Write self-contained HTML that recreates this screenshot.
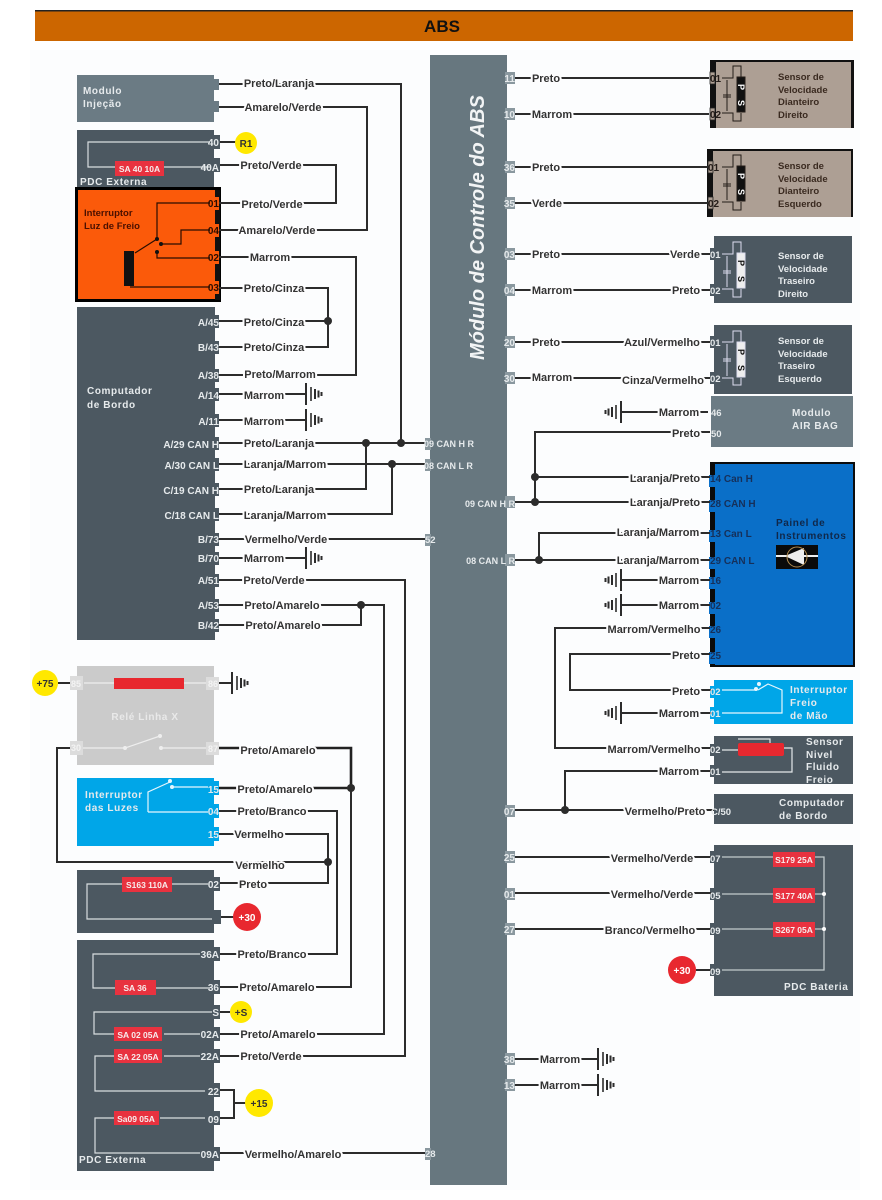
<!DOCTYPE html>
<html><head><meta charset="utf-8"><style>
html,body{margin:0;padding:0;background:#fff}
svg{display:block;filter:blur(0.35px)}
text{font-family:"Liberation Sans",sans-serif;font-weight:bold}
.l{font-size:11px;fill:#333;stroke:#fdfdfe;stroke-width:4px;paint-order:stroke;text-anchor:middle;stroke-linejoin:round}
.w{fill:none;stroke:#2c2c2c;stroke-width:2}
.i{fill:none;stroke:#d8dde0;stroke-width:1.2}
.p{font-size:10px;fill:#e6eaec;text-anchor:end}
.q{font-size:9.5px;fill:#e6eaec;text-anchor:start}
.t{font-size:10px;fill:#e6eaec;letter-spacing:.6px}
.s{font-size:9.5px;fill:#e6eaec}
.d{font-size:9.5px;fill:#3a2a20}
.f{font-size:8.5px;fill:#f7eded;text-anchor:middle}
.k{font-size:10px;fill:#16305a}
</style></head><body>
<svg width="882" height="1200" viewBox="0 0 882 1200" xmlns="http://www.w3.org/2000/svg">
<defs><g id="g"><path d="M0 -11V11" stroke="#2c2c2c" stroke-width="2"/><path d="M5 -7V7" stroke="#2c2c2c" stroke-width="1.6"/><path d="M9 -5V5M12.5 -3.500V3.500M15.500 -2V2" stroke="#2c2c2c" stroke-width="2"/></g></defs>
<rect width="882" height="1200" fill="#fff"/>
<rect x="30" y="50" width="830" height="1140" fill="#fcfdfe"/>
<rect x="35" y="11" width="818" height="30" fill="#cc6600"/><rect x="35" y="10" width="818" height="1.5" fill="#222"/>
<text x="442" y="32" font-size="17" text-anchor="middle" fill="#111">ABS</text>

<rect x="430" y="55" width="77" height="1130" fill="#67777f"/>
<text transform="translate(484,360) rotate(-90)" font-size="20" font-style="italic" fill="#f2f4f5">Módulo de Controle do ABS</text>

<!-- left blocks -->
<rect x="77" y="75" width="137" height="47" fill="#6b7b84"/>
<rect x="214" y="79" width="5" height="11" fill="#6b7b84"/><rect x="214" y="101" width="5" height="11" fill="#6b7b84"/>
<text class="t" x="83" y="94">Modulo</text><text class="t" x="83" y="107">Injeção</text>
<rect x="77" y="130" width="137" height="58" fill="#4c5861"/>
<rect x="77" y="307" width="138" height="333" fill="#4c5861"/>
<text class="t" x="87" y="394">Computador</text><text class="t" x="87" y="408">de Bordo</text>
<rect x="77" y="666" width="137" height="99" fill="#cbcbcb"/>
<rect x="77" y="778" width="137" height="68" fill="#00a6e8"/>
<rect x="77" y="870" width="137" height="63" fill="#4c5861"/>
<rect x="77" y="940" width="137" height="231" fill="#4c5861"/>

<!-- left tabs -->
<g fill="#4c5861">
<rect x="214" y="135" width="6" height="14"/><rect x="214" y="158" width="6" height="14"/>
<rect x="214" y="315" width="5" height="13"/><rect x="214" y="341" width="5" height="13"/><rect x="214" y="369" width="5" height="13"/><rect x="214" y="388" width="5" height="13"/><rect x="214" y="414" width="5" height="13"/><rect x="214" y="437" width="5" height="13"/><rect x="214" y="458" width="5" height="13"/><rect x="214" y="483" width="5" height="13"/><rect x="214" y="508" width="5" height="13"/><rect x="214" y="533" width="5" height="13"/><rect x="214" y="552" width="5" height="13"/><rect x="214" y="574" width="5" height="13"/><rect x="214" y="599" width="5" height="13"/><rect x="214" y="619" width="5" height="13"/>
<rect x="214" y="877" width="6" height="14"/>
<rect x="214" y="947" width="6" height="14"/><rect x="214" y="980" width="6" height="14"/><rect x="214" y="1005" width="6" height="14"/><rect x="214" y="1027" width="6" height="14"/><rect x="214" y="1049" width="6" height="14"/><rect x="214" y="1083" width="6" height="14"/><rect x="214" y="1111" width="6" height="14"/><rect x="214" y="1147" width="6" height="14"/>
</g>
<g fill="#00a6e8"><rect x="214" y="781" width="5" height="14"/><rect x="214" y="804" width="5" height="14"/><rect x="214" y="827" width="5" height="14"/></g>

<!-- PDC top interior -->
<path class="i" d="M210 142H88V167H210"/>
<rect x="115" y="161" width="49" height="15" fill="#e8323f"/><text class="f" x="139.500" y="172">SA 40 10A</text>
<text class="t" x="80" y="185">PDC Externa</text>
<!-- orange -->
<rect x="76.500" y="188.500" width="143" height="112" fill="#fb5a0a" stroke="#000" stroke-width="3"/>
<path d="M215 190h5v110h-5z" fill="#111"/>
<g fill="#fb5a0a"><rect x="214" y="197" width="5" height="13"/><rect x="214" y="224" width="5" height="13"/><rect x="214" y="251" width="5" height="13"/><rect x="214" y="281" width="5" height="13"/></g>
<rect x="124" y="251" width="10" height="35" fill="#111"/>
<text x="84" y="216" font-size="9.500" fill="#4a1000">Interruptor</text><text x="84" y="229" font-size="9.500" fill="#4a1000">Luz de Freio</text>
<path d="M210 203H157V238M135 253L157 239M160 244H181V230H210M157 252V258H210M130 287H210" fill="none" stroke="#2a0d00" stroke-width="1.2"/>
<circle cx="157" cy="239" r="2" fill="#111"/><circle cx="161" cy="244" r="2" fill="#111"/><circle cx="157" cy="252" r="2" fill="#111"/>

<!-- relay -->
<path d="M84 683H210" fill="none" stroke="#eee" stroke-width="1.2"/>
<rect x="114" y="678" width="70" height="11" fill="#e8282f"/>
<text x="145" y="720" font-size="10" fill="#e9e9e9" text-anchor="middle" style="letter-spacing:.6px">Relé Linha X</text>
<path d="M80 748H125L160 736M161 748H210" fill="none" stroke="#eee" stroke-width="1.2"/>
<circle cx="125" cy="748" r="2" fill="#eee"/><circle cx="161" cy="748" r="2" fill="#eee"/><circle cx="160" cy="736" r="2" fill="#eee"/>
<rect x="70" y="676" width="13" height="14" fill="#dcdcdc"/><rect x="206" y="677" width="13" height="13" fill="#dcdcdc"/>
<rect x="70" y="741" width="13" height="14" fill="#dcdcdc"/><rect x="206" y="742" width="13" height="13" fill="#dcdcdc"/>
<text x="76" y="687" font-size="9" text-anchor="middle" fill="#f3f3f3">85</text><text x="213" y="687" font-size="9" text-anchor="middle" fill="#f3f3f3">86</text>
<text x="76" y="751" font-size="9" text-anchor="middle" fill="#f3f3f3">30</text><text x="213" y="752" font-size="9" text-anchor="middle" fill="#f3f3f3">87</text>

<!-- luzes -->
<text class="t" x="85" y="798">Interruptor</text><text class="t" x="85" y="811">das Luzes</text>
<path d="M148 812V792L170 782M172 787H208M148 812H208" fill="none" stroke="#e6f6fd" stroke-width="1.2"/>
<circle cx="170" cy="781" r="2" fill="#e6f6fd"/><circle cx="172" cy="787" r="2" fill="#e6f6fd"/>
<!-- s163 -->
<path class="i" d="M208 884H87V919H212"/>
<rect x="122" y="877" width="50" height="15" fill="#e8323f"/><text class="f" x="147" y="888">S163 110A</text>
<rect x="214" y="910" width="7" height="14" fill="#4c5861"/>
<!-- bottom pdc -->
<path class="i" d="M200 954H93V988H116M156 988H210M212 1012H94V1034H116M164 1034H200M200 1056H164M116 1056H95V1091H205M205 1118H160M114 1118H95V1153H200"/>
<rect x="115" y="980" width="41" height="15" fill="#e8323f"/><text class="f" x="135" y="991">SA 36</text>
<rect x="114" y="1027" width="48" height="14" fill="#e8323f"/><text class="f" x="138" y="1038">SA 02 05A</text>
<rect x="114" y="1049" width="48" height="14" fill="#e8323f"/><text class="f" x="138" y="1060">SA 22 05A</text>
<rect x="114" y="1111" width="45" height="14" fill="#e8323f"/><text class="f" x="136" y="1122">Sa09 05A</text>
<text class="t" x="79" y="1163">PDC Externa</text>

<!-- left wires -->
<path class="w" d="M219 84H401V443M219 107H367V230H219M220 165H336V203H219M219 257H356V375H219M219 288H328V347H219M219 321H328M219 394H306M219 420H306M219 443H430M219 464H430M219 489H366V443M219 514H392V464M219 539H430M219 558H306M219 580H405V1056H220M219 605H384V1034H220M219 625H361V605M351 788V987H220M219 811H337V954H220M219 834H328V883H220M70 748H57V862H328M220 142H236M219 683H231M58 683H70M221 917H234M220 1012H230M220 1153H430"/>
<path d="M219 748H351V790M219 788H351" fill="none" stroke="#222" stroke-width="2.6"/>
<path class="w" d="M220 1090H234V1118H220M234 1103H246"/>
<g fill="#2c2c2c"><circle cx="328" cy="321" r="4"/><circle cx="366" cy="443" r="4"/><circle cx="401" cy="443" r="4"/><circle cx="392" cy="464" r="4"/><circle cx="361" cy="605" r="4"/><circle cx="351" cy="788" r="4"/><circle cx="328" cy="862" r="4"/></g>
<use href="#g" x="306" y="394"/><use href="#g" x="306" y="420"/><use href="#g" x="306" y="558"/><use href="#g" x="232" y="683"/>

<!-- left labels -->
<g>
<text class="l" x="279" y="87">Preto/Laranja</text><text class="l" x="283" y="111">Amarelo/Verde</text>
<text class="l" x="271" y="169">Preto/Verde</text><text class="l" x="272" y="208">Preto/Verde</text><text class="l" x="277" y="234">Amarelo/Verde</text>
<text class="l" x="270" y="261">Marrom</text><text class="l" x="274" y="292">Preto/Cinza</text><text class="l" x="274" y="326">Preto/Cinza</text><text class="l" x="274" y="351">Preto/Cinza</text>
<text class="l" x="280" y="378">Preto/Marrom</text><text class="l" x="264" y="399">Marrom</text><text class="l" x="264" y="425">Marrom</text>
<text class="l" x="279" y="447">Preto/Laranja</text><text class="l" x="285" y="468">Laranja/Marrom</text><text class="l" x="279" y="493">Preto/Laranja</text><text class="l" x="285" y="519">Laranja/Marrom</text>
<text class="l" x="286" y="543">Vermelho/Verde</text><text class="l" x="264" y="562">Marrom</text><text class="l" x="274" y="584">Preto/Verde</text>
<text class="l" x="282" y="609">Preto/Amarelo</text><text class="l" x="283" y="629">Preto/Amarelo</text>
<text class="l" x="278" y="754">Preto/Amarelo</text><text class="l" x="275" y="793">Preto/Amarelo</text><text class="l" x="272" y="815">Preto/Branco</text><text class="l" x="259" y="838">Vermelho</text><text class="l" x="260" y="869">Vermelho</text><text class="l" x="253" y="888">Preto</text>
<text class="l" x="272" y="958">Preto/Branco</text><text class="l" x="277" y="991">Preto/Amarelo</text><text class="l" x="278" y="1038">Preto/Amarelo</text><text class="l" x="271" y="1060">Preto/Verde</text><text class="l" x="293" y="1158">Vermelho/Amarelo</text>
</g>

<!-- left pins -->
<g>
<text class="p" x="219" y="146">40</text><text class="p" x="219" y="171">40A</text>
<text x="219" y="207" font-size="10" text-anchor="end" fill="#2a0d00">01</text><text x="219" y="234" font-size="10" text-anchor="end" fill="#2a0d00">04</text><text x="219" y="261" font-size="10" text-anchor="end" fill="#2a0d00">02</text><text x="219" y="291" font-size="10" text-anchor="end" fill="#2a0d00">03</text>
<text class="p" x="219" y="326">A/45</text><text class="p" x="219" y="351">B/43</text><text class="p" x="219" y="379">A/38</text><text class="p" x="219" y="399">A/14</text><text class="p" x="219" y="425">A/11</text>
<text class="p" x="219" y="448">A/29 CAN H</text><text class="p" x="219" y="469">A/30 CAN L</text><text class="p" x="219" y="494">C/19 CAN H</text><text class="p" x="219" y="519">C/18 CAN L</text>
<text class="p" x="219" y="543">B/73</text><text class="p" x="219" y="562">B/70</text><text class="p" x="219" y="584">A/51</text><text class="p" x="219" y="609">A/53</text><text class="p" x="219" y="629">B/42</text>
<text class="p" x="219" y="793">15</text><text class="p" x="219" y="815">04</text><text class="p" x="219" y="838">15</text><text class="p" x="219" y="888">02</text>
<text class="p" x="219" y="958">36A</text><text class="p" x="219" y="991">36</text><text class="p" x="219" y="1016">S</text><text class="p" x="219" y="1038">02A</text><text class="p" x="219" y="1060">22A</text><text class="p" x="219" y="1095">22</text><text class="p" x="219" y="1123">09</text><text class="p" x="219" y="1158">09A</text>
</g>

<!-- circles -->
<g text-anchor="middle" font-size="10">
<circle cx="246" cy="143" r="11" fill="#ffe800"/><text x="246" y="147" fill="#333">R1</text>
<circle cx="45" cy="683" r="13" fill="#ffe800"/><text x="45" y="687" fill="#333">+75</text>
<circle cx="247" cy="917" r="14" fill="#e8282f"/><text x="247" y="921" fill="#fff">+30</text>
<circle cx="241" cy="1012" r="11" fill="#ffe800"/><text x="241" y="1016" fill="#333">+S</text>
<circle cx="259" cy="1103" r="14" fill="#ffe800"/><text x="259" y="1107" fill="#333">+15</text>
<circle cx="682" cy="970" r="14" fill="#e8282f"/><text x="682" y="974" fill="#fff">+30</text>
</g>

<!-- center pins -->
<g fill="#8a989f"><rect x="425" y="438" width="6" height="12"/><rect x="425" y="459" width="6" height="12"/><rect x="425" y="534" width="6" height="12"/><rect x="425" y="1148" width="6" height="12"/></g>
<text class="q" x="424" y="447" style="font-size:9px">09 CAN H R</text><text class="q" x="424" y="469" style="font-size:9px">08 CAN L R</text><text class="q" x="425" y="543">52</text><text class="q" x="425" y="1157">28</text>
<g fill="#8a989f">
<rect x="505" y="72" width="10" height="12"/><rect x="505" y="108" width="10" height="12"/><rect x="505" y="161" width="10" height="12"/><rect x="505" y="197" width="10" height="12"/><rect x="505" y="248" width="10" height="12"/><rect x="505" y="284" width="10" height="12"/><rect x="505" y="336" width="10" height="12"/><rect x="505" y="372" width="10" height="12"/><rect x="505" y="496" width="10" height="12"/><rect x="505" y="554" width="10" height="12"/><rect x="505" y="805" width="10" height="12"/><rect x="505" y="851" width="10" height="12"/><rect x="505" y="888" width="10" height="12"/><rect x="505" y="923" width="10" height="12"/><rect x="505" y="1053" width="10" height="12"/><rect x="505" y="1079" width="10" height="12"/>
</g>
<g>
<text class="p" x="515" y="82">11</text><text class="p" x="515" y="118">10</text><text class="p" x="515" y="171">36</text><text class="p" x="515" y="207">35</text><text class="p" x="515" y="258">03</text><text class="p" x="515" y="294">04</text><text class="p" x="515" y="346">20</text><text class="p" x="515" y="382">30</text><text class="p" x="515" y="507" style="font-size:9px">09 CAN H R</text><text class="p" x="515" y="564" style="font-size:9px">08 CAN L R</text><text class="p" x="515" y="815">07</text><text class="p" x="515" y="861">25</text><text class="p" x="515" y="898">01</text><text class="p" x="515" y="933">27</text><text class="p" x="515" y="1063">38</text><text class="p" x="515" y="1089">13</text>
</g>

<!-- right blocks -->
<rect x="710" y="60" width="144" height="68" fill="#ad9f94"/><path d="M710 60h144v2h-144zM710 60h6v68h-6zM851 60h3v68h-3z" fill="#111"/>
<rect x="707" y="149" width="146" height="68" fill="#ad9f94"/><path d="M707 149h146v2h-146zM707 149h6v68h-6zM851 149h2v68h-2z" fill="#111"/>
<rect x="714" y="236" width="138" height="67" fill="#4c5861"/>
<rect x="714" y="325" width="138" height="69" fill="#4c5861"/>
<rect x="711" y="396" width="142" height="51" fill="#6b7b84"/>
<rect x="710" y="462" width="145" height="205" fill="#0a6fc8"/><path d="M710 462h145v2h-145zM710 462h5v205h-5zM853 462h2v205h-2zM710 665h145v2h-145z" fill="#0b0b0b"/>
<rect x="714" y="680" width="139" height="44" fill="#00a6e8"/>
<rect x="714" y="736" width="139" height="48" fill="#4c5861"/>
<rect x="714" y="794" width="139" height="30" fill="#4c5861"/>
<rect x="714" y="845" width="139" height="151" fill="#4c5861"/>

<!-- right tabs -->
<g fill="#ad9f94" stroke="#222" stroke-width=".8"><rect x="710" y="72" width="5" height="12"/><rect x="710" y="108" width="5" height="12"/><rect x="708" y="161" width="5" height="12"/><rect x="708" y="197" width="5" height="12"/></g>
<g fill="#4c5861"><rect x="710" y="248" width="5" height="12"/><rect x="710" y="284" width="5" height="12"/><rect x="710" y="336" width="5" height="12"/><rect x="710" y="372" width="5" height="12"/><rect x="710" y="744" width="5" height="12"/><rect x="710" y="765" width="5" height="12"/><rect x="710" y="851" width="5" height="12"/><rect x="710" y="888" width="5" height="12"/><rect x="710" y="923" width="5" height="12"/><rect x="710" y="964" width="5" height="12"/></g>
<g fill="#0a6fc8"><rect x="709" y="475" width="7" height="12"/><rect x="709" y="500" width="7" height="12"/><rect x="709" y="530" width="7" height="12"/><rect x="709" y="557" width="7" height="12"/><rect x="709" y="577" width="7" height="12"/><rect x="709" y="602" width="7" height="12"/><rect x="709" y="626" width="7" height="12"/><rect x="709" y="652" width="7" height="12"/></g>
<g fill="#00a6e8"><rect x="710" y="686" width="5" height="12"/><rect x="710" y="707" width="5" height="12"/></g>

<!-- sensor symbols -->
<g fill="none" stroke="#241c18" stroke-width="1"><path d="M722 78H733V66H741V78M722 113H733V121H741V113M727 80V111M723 95H731M723 97H731"/><rect x="737" y="77" width="8" height="35" fill="#111"/></g>
<text transform="translate(738,84) rotate(90)" font-size="9" fill="#fff">P</text><text transform="translate(738,100) rotate(90)" font-size="9" fill="#fff">S</text>
<g fill="none" stroke="#241c18" stroke-width="1"><path d="M722 167H733V155H741V167M722 202H733V210H741V202M727 169V200M723 184H731M723 186H731"/><rect x="737" y="166" width="8" height="35" fill="#111"/></g>
<text transform="translate(738,173) rotate(90)" font-size="9" fill="#fff">P</text><text transform="translate(738,189) rotate(90)" font-size="9" fill="#fff">S</text>
<g fill="none" stroke="#dde" stroke-width="1"><path d="M722 254H733V242H741V254M722 289H733V297H741V289M727 256V287M723 271H731M723 273H731"/><rect x="737" y="253" width="8" height="35" fill="#eee"/></g>
<text transform="translate(738,260) rotate(90)" font-size="9" fill="#111">P</text><text transform="translate(738,276) rotate(90)" font-size="9" fill="#111">S</text>
<g fill="none" stroke="#dde" stroke-width="1"><path d="M722 342H733V331H741V342M722 378H733V385H741V378M727 344V376M723 359H731M723 361H731"/><rect x="737" y="342" width="8" height="35" fill="#eee"/></g>
<text transform="translate(738,349) rotate(90)" font-size="9" fill="#111">P</text><text transform="translate(738,365) rotate(90)" font-size="9" fill="#111">S</text>

<!-- right wires -->
<path class="w" d="M515 78H709M515 114H709M515 167H709M515 203H709M515 254H711M515 290H711M515 342H711M515 378H711M621 412H708M710 432H535V502M535 477H710M515 502H710M710 533H539V560M515 560H710M621 580H710M621 605H710M710 628H555V748H712M710 654H570V690H712M621 713H712M712 771H565V810M515 810H714M515 857H711M515 893H711M515 929H711M696 970H711M515 1059H597M515 1085H597"/>
<g fill="#2c2c2c"><circle cx="535" cy="477" r="4"/><circle cx="535" cy="502" r="4"/><circle cx="539" cy="560" r="4"/><circle cx="565" cy="810" r="4"/></g>
<use href="#g" transform="translate(621,412) scale(-1,1)"/><use href="#g" transform="translate(621,580) scale(-1,1)"/><use href="#g" transform="translate(621,605) scale(-1,1)"/><use href="#g" transform="translate(621,713) scale(-1,1)"/>
<use href="#g" x="598" y="1059"/><use href="#g" x="598" y="1085"/>

<!-- right labels -->
<text class="l" x="546" y="82">Preto</text><text class="l" x="552" y="118">Marrom</text><text class="l" x="546" y="171">Preto</text><text class="l" x="547" y="207">Verde</text>
<text class="l" x="546" y="258">Preto</text><text class="l" x="685" y="258">Verde</text><text class="l" x="552" y="294">Marrom</text><text class="l" x="686" y="294">Preto</text>
<text class="l" x="546" y="346">Preto</text><text class="l" x="662" y="346">Azul/Vermelho</text><text class="l" x="552" y="381">Marrom</text><text class="l" x="663" y="384">Cinza/Vermelho</text>
<text class="l" x="679" y="416">Marrom</text><text class="l" x="686" y="437">Preto</text>
<text class="l" x="665" y="482">Laranja/Preto</text><text class="l" x="665" y="506">Laranja/Preto</text><text class="l" x="658" y="536">Laranja/Marrom</text><text class="l" x="658" y="564">Laranja/Marrom</text>
<text class="l" x="679" y="584">Marrom</text><text class="l" x="679" y="609">Marrom</text><text class="l" x="654" y="633">Marrom/Vermelho</text><text class="l" x="686" y="659">Preto</text><text class="l" x="686" y="695">Preto</text><text class="l" x="679" y="717">Marrom</text>
<text class="l" x="654" y="753">Marrom/Vermelho</text><text class="l" x="679" y="775">Marrom</text><text class="l" x="665" y="815">Vermelho/Preto</text>
<text class="l" x="652" y="862">Vermelho/Verde</text><text class="l" x="652" y="898">Vermelho/Verde</text><text class="l" x="650" y="934">Branco/Vermelho</text>
<text class="l" x="560" y="1063">Marrom</text><text class="l" x="560" y="1089">Marrom</text>

<!-- right pins/labels -->
<g font-size="10" fill="#241c18"><text x="710" y="82">01</text><text x="710" y="118">02</text><text x="708" y="171">01</text><text x="708" y="207">02</text></g>
<text class="q" x="710" y="258">01</text><text class="q" x="710" y="294">02</text><text class="q" x="710" y="346">01</text><text class="q" x="710" y="382">02</text><text class="q" x="711" y="416">46</text><text class="q" x="711" y="437">50</text>
<g><text class="k" x="710" y="482">14 Can H</text><text class="k" x="710" y="507">28 CAN H</text><text class="k" x="710" y="537">13 Can L</text><text class="k" x="710" y="564">29 CAN L</text><text class="k" x="710" y="584">16</text><text class="k" x="710" y="609">02</text><text class="k" x="710" y="633">26</text><text class="k" x="710" y="659">25</text></g>
<text class="q" x="710" y="695">02</text><text class="q" x="710" y="717">01</text><text class="q" x="710" y="753">02</text><text class="q" x="710" y="775">01</text><text class="q" x="711" y="815">C/50</text>
<text class="q" x="710" y="862">07</text><text class="q" x="710" y="899">05</text><text class="q" x="710" y="934">09</text><text class="q" x="710" y="975">09</text>

<g><text class="d" x="778" y="80">Sensor de</text><text class="d" x="778" y="93">Velocidade</text><text class="d" x="778" y="105">Dianteiro</text><text class="d" x="778" y="118">Direito</text>
<text class="d" x="778" y="169">Sensor de</text><text class="d" x="778" y="182">Velocidade</text><text class="d" x="778" y="194">Dianteiro</text><text class="d" x="778" y="207">Esquerdo</text></g>
<g><text class="s" x="778" y="259">Sensor de</text><text class="s" x="778" y="272">Velocidade</text><text class="s" x="778" y="284">Traseiro</text><text class="s" x="778" y="297">Direito</text>
<text class="s" x="778" y="344">Sensor de</text><text class="s" x="778" y="357">Velocidade</text><text class="s" x="778" y="369">Traseiro</text><text class="s" x="778" y="382">Esquerdo</text></g>
<text class="t" x="792" y="416">Modulo</text><text class="t" x="792" y="429">AIR BAG</text>

<text x="776" y="526" font-size="10" fill="#10284a" style="letter-spacing:.6px">Painel de</text><text x="776" y="539" font-size="10" fill="#10284a" style="letter-spacing:.6px">Instrumentos</text>
<rect x="776" y="545" width="42" height="24" fill="#0a0a0a"/><path d="M776 556H818" stroke="#eee" stroke-width="2"/><path d="M785 556L804 548V565Z" fill="#eee"/><circle cx="797" cy="557" r="10" fill="none" stroke="#b08a50"/>

<path d="M722 690H756M758 690L768 684L782 690V713H722" fill="none" stroke="#e6f6fd" stroke-width="1.2"/><circle cx="756" cy="689" r="2" fill="#e6f6fd"/><circle cx="759" cy="684" r="2" fill="#e6f6fd"/>
<text class="t" x="790" y="693">Interruptor</text><text class="t" x="790" y="706">Freio</text><text class="t" x="790" y="719">de Mão</text>

<path d="M722 750H738M738 739H770V744M783 748H792V772H722" fill="none" stroke="#e4e8ea" stroke-width="1.2"/>
<rect x="738" y="743" width="46" height="13" rx="2" fill="#e8282f"/>
<text class="t" x="806" y="745">Sensor</text><text class="t" x="806" y="758">Nivel</text><text class="t" x="806" y="770">Fluido</text><text class="t" x="806" y="783">Freio</text>
<text class="t" x="779" y="806">Computador</text><text class="t" x="779" y="819">de Bordo</text>

<path d="M722 857H824V970H722M722 894H824M722 929H824" fill="none" stroke="#c2cacd" stroke-width="1.3"/>
<circle cx="824" cy="894" r="2" fill="#fff"/><circle cx="824" cy="929" r="2" fill="#fff"/>
<rect x="773" y="852" width="42" height="15" fill="#e8323f"/><text class="f" x="794" y="863">S179 25A</text>
<rect x="773" y="888" width="42" height="15" fill="#e8323f"/><text class="f" x="794" y="899">S177 40A</text>
<rect x="773" y="922" width="42" height="15" fill="#e8323f"/><text class="f" x="794" y="933">S267 05A</text>
<text class="t" x="784" y="990">PDC Bateria</text>
</svg>
</body></html>
